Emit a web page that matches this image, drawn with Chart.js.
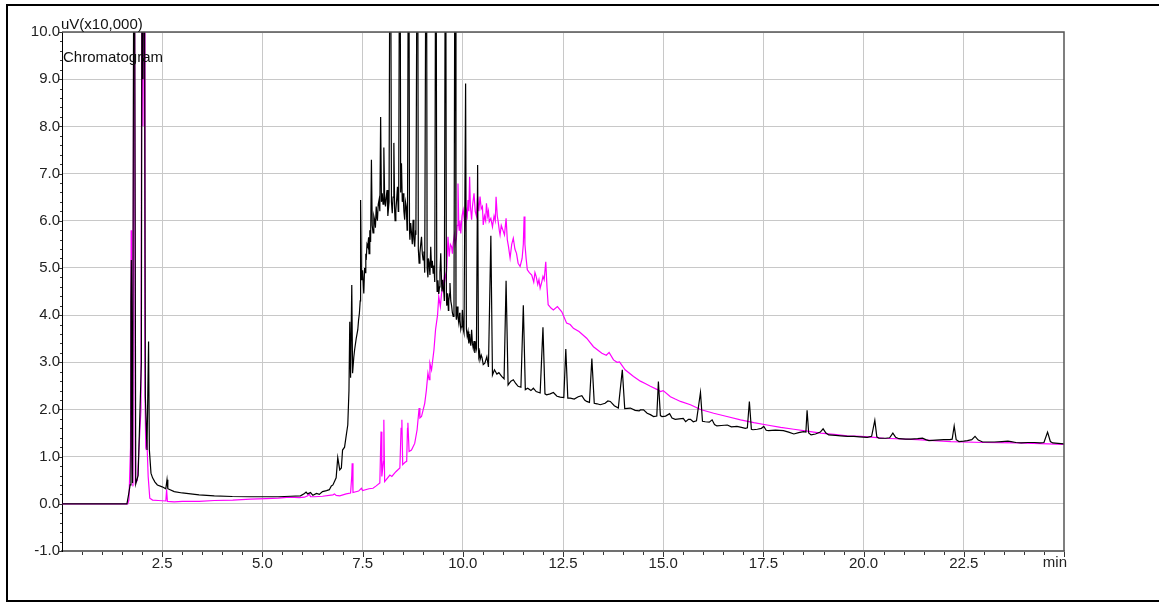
<!DOCTYPE html>
<html>
<head>
<meta charset="utf-8">
<title>Chromatogram</title>
<script src="https://cdn.jsdelivr.net/npm/chart.js@4.4.1/dist/chart.umd.min.js"></script>
<style>
  html, body { margin: 0; padding: 0; background: #fff; }
  #wrap { width: 1159px; height: 603px; }
</style>
</head>
<body>
<div id="wrap"><canvas id="chrom" width="1159" height="603"></canvas></div>
<script>
// retention time (min) / signal (uV x10,000), 10 per row
const blackTimes = [
  0.00, 1.62, 1.66, 1.70, 1.72, 1.73, 1.76, 1.79, 1.81, 1.84,
  1.90, 1.98, 2.00, 2.02, 2.05, 2.08, 2.12, 2.16, 2.18, 2.22,
  2.26, 2.32, 2.38, 2.50, 2.59, 2.62, 2.64, 2.80, 3.00, 3.42,
  3.80, 4.25, 4.70, 5.09, 5.40, 5.70, 5.95, 6.05, 6.09, 6.13,
  6.20, 6.26, 6.35, 6.42, 6.50, 6.60, 6.67, 6.72, 6.76, 6.84,
  6.88, 6.93, 6.97, 7.00, 7.05, 7.10, 7.13, 7.16, 7.18, 7.20,
  7.23, 7.25, 7.28, 7.30, 7.34, 7.38, 7.40, 7.42, 7.44, 7.45,
  7.47, 7.48, 7.50, 7.52, 7.53, 7.55, 7.56, 7.58, 7.59, 7.61,
  7.63, 7.65, 7.66, 7.68, 7.70, 7.72, 7.74, 7.76, 7.78, 7.80,
  7.82, 7.84, 7.86, 7.87, 7.89, 7.91, 7.93, 7.95, 7.97, 7.99,
  8.01, 8.03, 8.05, 8.07, 8.09, 8.11, 8.13, 8.14, 8.16, 8.19,
  8.22, 8.24, 8.26, 8.28, 8.30, 8.31, 8.33, 8.35, 8.37, 8.39,
  8.40, 8.43, 8.45, 8.47, 8.49, 8.51, 8.53, 8.55, 8.57, 8.59,
  8.61, 8.62, 8.65, 8.67, 8.68, 8.70, 8.72, 8.74, 8.76, 8.78,
  8.80, 8.82, 8.83, 8.87, 8.89, 8.91, 8.93, 8.95, 8.97, 8.99,
  9.01, 9.03, 9.05, 9.09, 9.11, 9.13, 9.14, 9.16, 9.18, 9.20,
  9.22, 9.24, 9.26, 9.28, 9.30, 9.33, 9.35, 9.36, 9.38, 9.40,
  9.42, 9.43, 9.45, 9.47, 9.48, 9.50, 9.51, 9.53, 9.54, 9.57,
  9.59, 9.60, 9.62, 9.64, 9.65, 9.67, 9.68, 9.70, 9.72, 9.74,
  9.76, 9.78, 9.81, 9.83, 9.84, 9.86, 9.88, 9.90, 9.92, 9.93,
  9.95, 9.96, 9.98, 9.99, 10.01, 10.03, 10.07, 10.09, 10.11, 10.13,
  10.15, 10.17, 10.18, 10.20, 10.22, 10.24, 10.26, 10.28, 10.30, 10.32,
  10.34, 10.37, 10.39, 10.40, 10.42, 10.43, 10.46, 10.48, 10.51, 10.55,
  10.60, 10.64, 10.70, 10.74, 10.79, 10.85, 10.90, 10.97, 11.03, 11.08,
  11.13, 11.20, 11.26, 11.32, 11.38, 11.45, 11.51, 11.56, 11.62, 11.70,
  11.76, 11.83, 11.93, 12.00, 12.05, 12.09, 12.18, 12.26, 12.35, 12.43,
  12.52, 12.57, 12.62, 12.68, 12.78, 12.88, 12.97, 13.04, 13.09, 13.16,
  13.22, 13.28, 13.35, 13.43, 13.55, 13.62, 13.68, 13.78, 13.88, 13.98,
  14.04, 14.18, 14.30, 14.40, 14.43, 14.51, 14.60, 14.68, 14.76, 14.84,
  14.88, 14.93, 14.97, 15.06, 15.16, 15.22, 15.30, 15.40, 15.50, 15.56,
  15.63, 15.68, 15.75, 15.83, 15.93, 15.98, 16.05, 16.15, 16.22, 16.28,
  16.34, 16.45, 16.60, 16.70, 16.84, 16.95, 17.05, 17.10, 17.15, 17.20,
  17.24, 17.35, 17.45, 17.51, 17.57, 17.63, 17.80, 18.00, 18.13, 18.26,
  18.38, 18.50, 18.56, 18.59, 18.63, 18.69, 18.80, 18.92, 18.99, 19.06,
  19.13, 19.30, 19.43, 19.60, 19.76, 19.90, 20.09, 20.20, 20.28, 20.33,
  20.38, 20.55, 20.65, 20.73, 20.80, 20.88, 21.05, 21.18, 21.35, 21.47,
  21.55, 21.63, 21.80, 22.00, 22.15, 22.21, 22.26, 22.31, 22.38, 22.50,
  22.59, 22.70, 22.78, 22.86, 22.97, 23.10, 23.26, 23.45, 23.60, 23.68,
  23.80, 23.93, 24.10, 24.26, 24.40, 24.50, 24.59, 24.66, 24.72, 24.85,
  25.00
];
const blackValues = [
  0.00, 0.00, 0.19, 0.40, 4.29, 5.17, 0.44, 12.0, 12.0, 0.42,
  0.60, 3.00, 15.0, 9.00, 15.0, 2.27, 1.14, 3.44, 1.14, 0.65,
  0.55, 0.46, 0.40, 0.36, 0.32, 0.51, 0.32, 0.26, 0.23, 0.19,
  0.17, 0.155, 0.15, 0.15, 0.15, 0.16, 0.17, 0.22, 0.25, 0.21,
  0.24, 0.18, 0.22, 0.20, 0.26, 0.28, 0.30, 0.38, 0.40, 0.55,
  0.98, 0.72, 0.76, 1.14, 1.20, 1.50, 1.67, 2.40, 3.86, 2.67,
  4.64, 2.77, 3.10, 3.26, 3.50, 3.69, 3.90, 4.04, 4.30, 6.44,
  4.90, 4.74, 4.95, 4.60, 4.46, 5.00, 4.90, 5.30, 5.17, 5.50,
  5.45, 5.65, 5.30, 5.80, 5.55, 7.29, 5.90, 5.74, 6.10, 6.02,
  5.85, 6.30, 6.05, 6.00, 6.35, 6.44, 6.20, 8.20, 6.40, 6.58,
  6.35, 7.55, 6.50, 6.30, 6.50, 6.65, 6.10, 6.20, 6.40, 15.0,
  6.40, 6.16, 6.50, 7.65, 6.20, 6.00, 6.23, 6.45, 6.72, 6.20,
  6.30, 15.0, 6.60, 7.22, 6.40, 6.58, 6.20, 6.02, 6.40, 6.30,
  5.80, 5.90, 15.0, 5.80, 5.60, 5.95, 5.74, 5.50, 6.02, 5.60,
  5.45, 5.80, 5.70, 15.0, 5.40, 5.10, 5.31, 5.50, 5.66, 5.30,
  5.17, 5.35, 4.90, 15.0, 5.00, 4.80, 5.20, 5.10, 4.85, 5.45,
  5.00, 5.15, 4.89, 5.05, 4.70, 15.0, 4.80, 4.50, 4.74, 4.45,
  4.60, 4.90, 5.31, 4.70, 4.50, 4.75, 4.60, 4.45, 4.30, 15.0,
  4.40, 4.20, 4.46, 4.10, 4.30, 4.45, 4.68, 4.30, 4.20, 4.05,
  3.97, 4.10, 15.0, 4.00, 3.90, 4.18, 3.95, 3.83, 4.05, 3.90,
  3.70, 3.75, 3.95, 4.11, 3.70, 3.62, 8.91, 3.70, 3.55, 3.65,
  3.40, 3.60, 3.47, 3.35, 3.69, 3.40, 3.30, 3.45, 3.20, 3.38,
  3.30, 7.18, 3.30, 3.12, 3.20, 3.05, 3.15, 3.10, 2.95, 2.98,
  3.12, 2.90, 5.68, 2.73, 2.84, 2.75, 2.78, 2.70, 2.65, 4.73,
  2.52, 2.60, 2.63, 2.55, 2.49, 2.47, 4.21, 2.42, 2.45, 2.40,
  2.45, 2.38, 2.35, 3.74, 2.33, 2.31, 2.33, 2.36, 2.28, 2.26,
  2.25, 3.28, 2.24, 2.24, 2.22, 2.27, 2.29, 2.20, 2.17, 2.15,
  3.08, 2.13, 2.12, 2.10, 2.13, 2.18, 2.17, 2.08, 2.03, 2.84,
  2.02, 2.03, 1.98, 1.97, 1.99, 1.99, 1.92, 1.89, 1.85, 1.86,
  2.59, 1.87, 1.85, 1.86, 1.91, 1.82, 1.79, 1.80, 1.81, 1.74,
  1.79, 1.79, 1.74, 1.76, 2.36, 1.75, 1.74, 1.73, 1.78, 1.68,
  1.65, 1.66, 1.67, 1.63, 1.64, 1.62, 1.60, 1.61, 2.17, 1.58,
  1.57, 1.58, 1.60, 1.64, 1.56, 1.55, 1.56, 1.55, 1.52, 1.48,
  1.51, 1.53, 1.52, 1.98, 1.50, 1.46, 1.48, 1.52, 1.59, 1.50,
  1.46, 1.45, 1.44, 1.43, 1.43, 1.42, 1.41, 1.43, 1.77, 1.42,
  1.39, 1.39, 1.40, 1.50, 1.41, 1.38, 1.37, 1.37, 1.38, 1.39,
  1.36, 1.34, 1.35, 1.36, 1.36, 1.37, 1.65, 1.36, 1.32, 1.33,
  1.34, 1.36, 1.43, 1.35, 1.31, 1.31, 1.31, 1.32, 1.33, 1.32,
  1.30, 1.29, 1.30, 1.30, 1.29, 1.30, 1.52, 1.32, 1.29, 1.28,
  1.27
];

const pinkTimes = [
  0.00, 1.64, 1.67, 1.71, 1.725, 1.74, 1.77, 1.79, 1.81, 1.83,
  1.88, 1.97, 2.00, 2.02, 2.05, 2.07, 2.09, 2.12, 2.15, 2.19,
  2.26, 2.40, 2.59, 2.61, 2.63, 2.80, 3.00, 3.42, 3.80, 4.26,
  4.70, 5.09, 5.40, 5.67, 5.92, 6.05, 6.13, 6.17, 6.20, 6.30,
  6.50, 6.76, 6.80, 6.84, 6.93, 7.09, 7.20, 7.23, 7.24, 7.26,
  7.40, 7.47, 7.50, 7.66, 7.76, 7.84, 7.93, 7.95, 7.96, 7.98,
  8.02, 8.03, 8.05, 8.08, 8.18, 8.23, 8.33, 8.43, 8.46, 8.48,
  8.50, 8.56, 8.60, 8.62, 8.63, 8.66, 8.72, 8.80, 8.86, 8.91,
  8.93, 8.97, 9.05, 9.09, 9.13, 9.16, 9.18, 9.22, 9.28, 9.32,
  9.37, 9.40, 9.44, 9.47, 9.51, 9.55, 9.58, 9.60, 9.63, 9.66,
  9.69, 9.72, 9.74, 9.76, 9.79, 9.81, 9.84, 9.86, 9.88, 9.90,
  9.91, 9.93, 9.95, 9.98, 10.01, 10.04, 10.06, 10.09, 10.11, 10.13,
  10.15, 10.17, 10.19, 10.22, 10.24, 10.26, 10.28, 10.31, 10.34, 10.37,
  10.40, 10.43, 10.46, 10.49, 10.51, 10.54, 10.57, 10.59, 10.62, 10.64,
  10.66, 10.70, 10.74, 10.78, 10.81, 10.83, 10.86, 10.88, 10.91, 10.93,
  10.96, 11.00, 11.04, 11.08, 11.11, 11.14, 11.18, 11.22, 11.26, 11.30,
  11.34, 11.38, 11.43, 11.48, 11.51, 11.53, 11.55, 11.58, 11.61, 11.66,
  11.72, 11.77, 11.80, 11.83, 11.87, 11.90, 11.93, 11.97, 12.00, 12.03,
  12.07, 12.10, 12.13, 12.20, 12.26, 12.36, 12.47, 12.59, 12.68, 12.76,
  12.90, 13.09, 13.26, 13.47, 13.58, 13.65, 13.76, 13.85, 13.91, 14.05,
  14.26, 14.43, 14.55, 14.68, 14.88, 14.93, 15.00, 15.18, 15.30, 15.43,
  15.68, 15.93, 16.26, 16.59, 16.93, 17.26, 17.59, 17.93, 18.26, 18.59,
  18.93, 19.26, 19.59, 19.93, 20.26, 20.51, 21.34, 22.18, 23.00, 23.84,
  25.00
];
const pinkValues = [
  0.00, 0.00, 0.08, 1.20, 5.80, 1.00, 0.37, 12.0, 12.0, 0.44,
  0.50, 2.00, 15.0, 8.00, 15.0, 2.30, 1.21, 1.30, 0.58, 0.12,
  0.08, 0.07, 0.06, 0.30, 0.05, 0.04, 0.05, 0.05, 0.07, 0.08,
  0.10, 0.11, 0.12, 0.14, 0.13, 0.14, 0.17, 0.21, 0.15, 0.15,
  0.16, 0.19, 0.21, 0.18, 0.17, 0.21, 0.23, 0.60, 0.86, 0.24,
  0.27, 0.33, 0.28, 0.32, 0.33, 0.38, 0.44, 1.20, 1.53, 0.58,
  0.90, 1.78, 0.47, 0.50, 0.61, 0.58, 0.68, 0.76, 1.60, 1.78,
  0.83, 0.88, 0.90, 1.60, 1.72, 1.11, 1.14, 1.28, 1.57, 2.03,
  1.82, 1.85, 2.13, 2.40, 2.77, 2.63, 2.98, 2.84, 3.26, 3.69,
  4.00, 4.39, 4.18, 4.46, 4.60, 4.89, 4.75, 5.00, 5.66, 5.24,
  5.50, 5.45, 5.30, 5.52, 5.70, 5.50, 5.63, 5.90, 6.79, 5.90,
  5.80, 6.00, 5.73, 6.10, 6.23, 6.00, 5.87, 6.20, 6.10, 6.44,
  6.20, 6.93, 6.30, 6.02, 6.30, 6.44, 6.58, 6.20, 6.10, 6.51,
  6.20, 6.51, 6.25, 6.30, 5.91, 6.10, 6.00, 6.37, 6.10, 6.20,
  5.98, 6.05, 5.87, 6.10, 6.00, 6.51, 6.10, 6.00, 5.80, 5.70,
  5.90, 5.80, 5.70, 6.05, 5.60, 5.45, 5.21, 5.50, 5.63, 5.40,
  5.31, 5.10, 5.03, 5.20, 5.50, 6.09, 5.50, 5.20, 4.96, 4.90,
  4.85, 4.70, 4.90, 4.82, 4.65, 4.75, 4.57, 4.70, 4.82, 4.75,
  5.13, 4.60, 4.22, 4.15, 4.11, 4.18, 4.07, 3.83, 3.80, 3.72,
  3.65, 3.51, 3.33, 3.19, 3.15, 3.21, 3.05, 3.00, 3.01, 2.84,
  2.70, 2.60, 2.55, 2.49, 2.41, 2.38, 2.40, 2.27, 2.22, 2.17,
  2.10, 2.00, 1.92, 1.85, 1.78, 1.72, 1.67, 1.62, 1.58, 1.54,
  1.50, 1.47, 1.44, 1.43, 1.41, 1.39, 1.36, 1.32, 1.30, 1.29,
  1.26
];

const xTickStep = 2.5;
const yTickLabels = ['-1.0', '0.0', '1.0', '2.0', '3.0', '4.0', '5.0', '6.0', '7.0', '8.0', '9.0', '10.0'];

const FONT = 'Liberation Sans, Arial, sans-serif';

function toPoints(times, values) {
  return times.map((t, i) => ({ x: t, y: values[i] }));
}

const decorPlugin = {
  id: 'decor',
  beforeDraw(chart) {
    const ctx = chart.ctx;
    ctx.save();
    ctx.strokeStyle = '#000';
    ctx.lineWidth = 2;
    ctx.beginPath();
    ctx.moveTo(1200, 5);
    ctx.lineTo(7, 5);
    ctx.lineTo(7, 601);
    ctx.lineTo(1200, 601);
    ctx.stroke();
    ctx.restore();
  },
  afterDraw(chart) {
    const ctx = chart.ctx;
    const area = chart.chartArea;
    const xs = chart.scales.x;
    const ys = chart.scales.y;
    ctx.save();

    // top and right frame of the plot
    ctx.strokeStyle = '#555';
    ctx.lineWidth = 1.5;
    ctx.beginPath();
    ctx.moveTo(area.left, area.top);
    ctx.lineTo(area.right, area.top);
    ctx.lineTo(area.right, area.bottom);
    ctx.stroke();

    // minor ticks
    ctx.strokeStyle = '#333';
    ctx.lineWidth = 1;
    ctx.beginPath();
    for (let i = 1; i <= 50; i++) {
      const px = Math.round(xs.getPixelForValue(i / 2)) + 0.5;
      const len = i % 5 === 0 ? 5 : 3;
      ctx.moveTo(px, area.bottom + 1);
      ctx.lineTo(px, area.bottom + 1 + len);
    }
    for (let i = -5; i <= 50; i++) {
      const py = Math.round(ys.getPixelForValue(i / 5)) + 0.5;
      const len = i % 5 === 0 ? 3 : 2;
      ctx.moveTo(area.left - len, py);
      ctx.lineTo(area.left, py);
    }
    ctx.stroke();

    ctx.fillStyle = '#111';
    ctx.font = '15px ' + FONT;
    ctx.textBaseline = 'alphabetic';
    ctx.textAlign = 'left';
    ctx.fillText('uV(x10,000)', area.left - 1, 29);
    ctx.fillText('Chromatogram', area.left + 1, 62);
    ctx.textAlign = 'right';
    ctx.textBaseline = 'middle';
    ctx.fillStyle = '#222';
    ctx.fillText('min', area.right + 3, 563);
    ctx.restore();
  }
};

function buildChart() {
  const ctx = document.getElementById('chrom').getContext('2d');
  Chart.defaults.font.family = FONT;

  return new Chart(ctx, {
    type: 'line',
    data: {
      datasets: [
        {
          label: 'Chromatogram 1',
          data: toPoints(blackTimes, blackValues),
          borderColor: '#000000',
          borderWidth: 1.2,
          pointRadius: 0,
          tension: 0,
          fill: false
        },
        {
          label: 'Chromatogram 2',
          data: toPoints(pinkTimes, pinkValues),
          borderColor: '#ff00ff',
          borderWidth: 1.2,
          pointRadius: 0,
          tension: 0,
          fill: false
        }
      ]
    },
    options: {
      responsive: false,
      animation: false,
      events: [],
      layout: { padding: { top: 32, right: 95, left: 0, bottom: 0 } },
      plugins: { legend: { display: false }, tooltip: { enabled: false } },
      scales: {
        x: {
          type: 'linear',
          min: 0,
          max: 25,
          afterFit: (scale) => { scale.height = 52; },
          ticks: {
            stepSize: xTickStep,
            autoSkip: false,
            maxRotation: 0,
            padding: 4,
            color: '#222',
            font: { size: 15 },
            callback: (v) => (v === 0 || v === 25) ? '' : v.toFixed(1)
          },
          grid: {
            drawTicks: false,
            color: (c) => (c.tick && (c.tick.value === 0 || c.tick.value === 25)) ? 'rgba(0,0,0,0)' : '#c8c8c8',
            lineWidth: 1
          },
          border: { display: true, color: '#707070', width: 2 }
        },
        y: {
          min: -1,
          max: 10,
          afterFit: (scale) => { scale.width = 62; },
          ticks: {
            stepSize: 1,
            padding: 2,
            color: '#222',
            font: { size: 15 },
            callback: (v) => yTickLabels[Math.round(v) + 1]
          },
          grid: {
            drawTicks: false,
            color: (c) => (c.tick && c.tick.value === -1) ? 'rgba(0,0,0,0)' : '#c8c8c8',
            lineWidth: 1
          },
          border: { display: true, color: '#000', width: 1 }
        }
      }
    },
    plugins: [decorPlugin]
  });
}

buildChart();
</script>
</body>
</html>
